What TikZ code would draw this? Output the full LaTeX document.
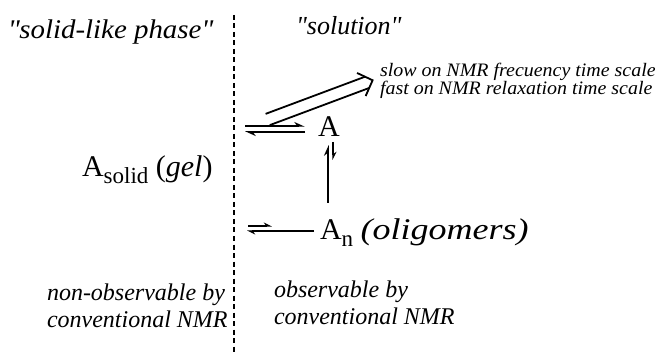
\documentclass[tikz,border=0pt]{standalone}
\usepackage{fontspec}
\setmainfont{Liberation Serif}
\newfontfamily\headfont[FakeStretch=1.07]{Liberation Serif}
\newfontfamily\notefont[FakeStretch=1.05]{Liberation Serif}
\newfontfamily\oligfont[FakeStretch=1.2]{Liberation Serif}
\usetikzlibrary{arrows.meta}
\newcommand{\lowsub}[1]{\raisebox{-0.22em}{\fontsize{23}{23}\selectfont #1}}
\begin{document}
\begin{tikzpicture}[x=1pt,y=-1pt,
  lbl/.style={inner sep=0pt, outer sep=0pt},
  head/.style={lbl, font=\fontsize{27}{30}\headfont\itshape},
  chem/.style={lbl, font=\fontsize{30}{34}\selectfont},
  note/.style={lbl, font=\fontsize{19}{18}\notefont\itshape, align=left},
  foot/.style={lbl, font=\fontsize{24}{27}\selectfont\itshape, align=left},
  eq/.style={line width=1.5pt, -{Stealth[harpoon,length=9pt,width=8pt]}},
  eqs/.style={eq, -{Stealth[harpoon,length=7pt,width=7pt]}},
  divider/.style={line width=2pt, dash pattern=on 5pt off 3.5pt},
  bigarrow/.style={line width=1.8pt, line cap=butt}]
\useasboundingbox[fill=white] (0,0) rectangle (655,355);

% divider
\coordinate (dtop) at (234,15);
\coordinate (dbot) at (234,355);
\draw[divider] (dtop) -- (dbot);

% headings
\node[head, anchor=base west] (solidlike) at (8,39) {\textquotedbl solid-like phase\textquotedbl};
\node[head, font=\fontsize{26}{30}\selectfont\itshape, anchor=base west] (solution) at (296,35) {\textquotedbl solution\textquotedbl};

% species
\node[chem, anchor=base west] (Asolid) at (82,177) {A\lowsub{solid} (\textit{gel})};
\node[chem, anchor=base west] (A) at (318,137) {A};
\node[chem, anchor=base west] (An) at (320,240) {A\lowsub{n} {\oligfont\itshape(oligomers)}};

% note
\node[note, anchor=north west] (note) at (380,63) {slow on NMR frecuency time scale\\fast on NMR relaxation time scale};

% footers
\node[foot, anchor=north west] (nonobs) at (47,284) {non-observable by\\conventional NMR};
\node[foot, anchor=north west] (obs) at (274,281) {observable by\\conventional NMR};

% upper equilibrium (gel <-> A)
\coordinate (u1a) at (245,126); \coordinate (u1b) at (305,126);
\coordinate (u2a) at (305,132); \coordinate (u2b) at (245,132);
\draw[eq] (u1a) -- (u1b);
\draw[eq] (u2a) -- (u2b);

% vertical equilibrium (An <-> A)
\coordinate (v1a) at (328,203); \coordinate (v1b) at (328,145);
\coordinate (v2a) at (333,142); \coordinate (v2b) at (333,160);
\draw[eq] (v1a) -- (v1b);
\draw[eqs] (v2a) -- (v2b);

% lower equilibrium (gel <-> An)
\coordinate (l1a) at (248,226); \coordinate (l1b) at (272,226);
\coordinate (l2a) at (314,231); \coordinate (l2b) at (247,231);
\draw[eqs] (l1a) -- (l1b);
\draw[eqs] (l2a) -- (l2b);

% big double arrow toward note
\coordinate (bigstart) at (267.7,119.5);
\begin{scope}[shift={(bigstart)}, rotate=20.5]
  \draw[bigarrow] (0,-6) -- (106,-6);
  \draw[bigarrow] (0,6) -- (106,6);
  \draw[bigarrow, line join=miter] (100,-12.3) -- (112,0) -- (100,12.3);
\end{scope}
\end{tikzpicture}
\end{document}
